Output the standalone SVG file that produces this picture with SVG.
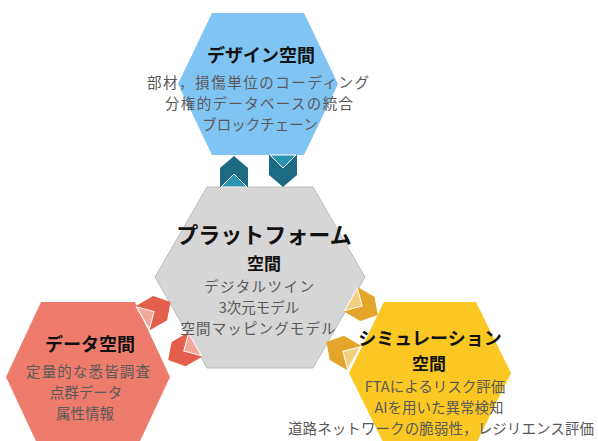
<svg xmlns="http://www.w3.org/2000/svg" width="598" height="441" viewBox="0 0 598 441">
<style>
text{font-family:"Noto Sans CJK JP","Noto Sans",sans-serif;text-anchor:middle}
.t{font-weight:bold;fill:#111;font-size:18px}
.t2{font-weight:bold;fill:#111;font-size:17px}
.tb{font-weight:bold;fill:#111;font-size:22px}
.b{fill:#595959;font-size:14.5px}
.cw{stroke:#fff;stroke-width:1}
</style>
<rect width="598" height="441" fill="#fff"/>
<g id="platform">
<polygon points="207,187 313,187 365,277 313,368 207,368 155,277" fill="#d6d6d6" stroke="#bdbdbd" stroke-width="1"/>
</g>
<g id="design">
<polygon points="212,13 304,13 338,84 304,155 212,155 178,84" fill="#80c4f4"/>
</g>
<g id="data">
<polygon points="41,302 135,302 170,377 135,452 41,452 6,377" fill="#ee7c6c"/>
</g>
<g id="simulation">
<polygon points="384,302 476,302 511,373 476,444 384,444 349,373" fill="#fbc823"/>
</g>
<g id="connectors">
<g>
<polygon points="220,187 220,168 234,156 248,168 248,187" fill="#1c6b83"/>
<polygon class="cw" points="221,187 234,174 247,187" fill="#2c94b2"/>
<polygon points="269,155 297,155 297,175 283,187 269,175" fill="#1c6b83"/>
<polygon class="cw" points="270,155 283,168 296,155" fill="#2c94b2"/>
</g>
<g transform="rotate(120 260 277)">
<polygon points="220,187 220,168 234,156 248,168 248,187" fill="#e3a62b"/>
<polygon class="cw" points="221,187 234,174 247,187" fill="#f2cf7f"/>
<polygon points="269,155 297,155 297,175 283,187 269,175" fill="#e3a62b"/>
<polygon class="cw" points="270,155 283,168 296,155" fill="#f2cf7f"/>
</g>
<g transform="rotate(240 260 277)">
<polygon points="220,187 220,168 234,156 248,168 248,187" fill="#e35f4c"/>
<polygon class="cw" points="221,187 234,174 247,187" fill="#f3a69a"/>
<polygon points="269,155 297,155 297,175 283,187 269,175" fill="#e35f4c"/>
<polygon class="cw" points="270,155 283,168 296,155" fill="#f3a69a"/>
</g>
</g>
<g id="design-text">
<text class="t" x="261" y="62">デザイン空間</text>
<text class="b" x="258" y="88" textLength="222">部材，損傷単位のコーディング</text>
<text class="b" x="259" y="109" textLength="188">分権的データベースの統合</text>
<text class="b" x="260" y="130">ブロックチェーン</text>
</g>
<g id="platform-text">
<text class="tb" x="264" y="243">プラットフォーム</text>
<text class="t2" x="264" y="269.5">空間</text>
<text class="b" x="259" y="291.5" textLength="110">デジタルツイン</text>
<text class="b" x="259" y="312.5">3次元モデル</text>
<text class="b" x="258" y="333.5" textLength="155">空間マッピングモデル</text>
</g>
<g id="data-text">
<text class="t" x="90" y="351">データ空間</text>
<text class="b" x="88" y="377" textLength="124">定量的な悉皆調査</text>
<text class="b" x="86" y="398">点群データ</text>
<text class="b" x="85" y="419">属性情報</text>
</g>
<g id="simulation-text">
<text class="t" x="430" y="345">シミュレーション</text>
<text class="t2" x="429" y="370">空間</text>
<text class="b" x="435" y="392">FTAによるリスク評価</text>
<text class="b" x="439" y="413">AIを用いた異常検知</text>
<text class="b" x="441" y="434" textLength="306">道路ネットワークの脆弱性，レジリエンス評価</text>
</g>
</svg>
